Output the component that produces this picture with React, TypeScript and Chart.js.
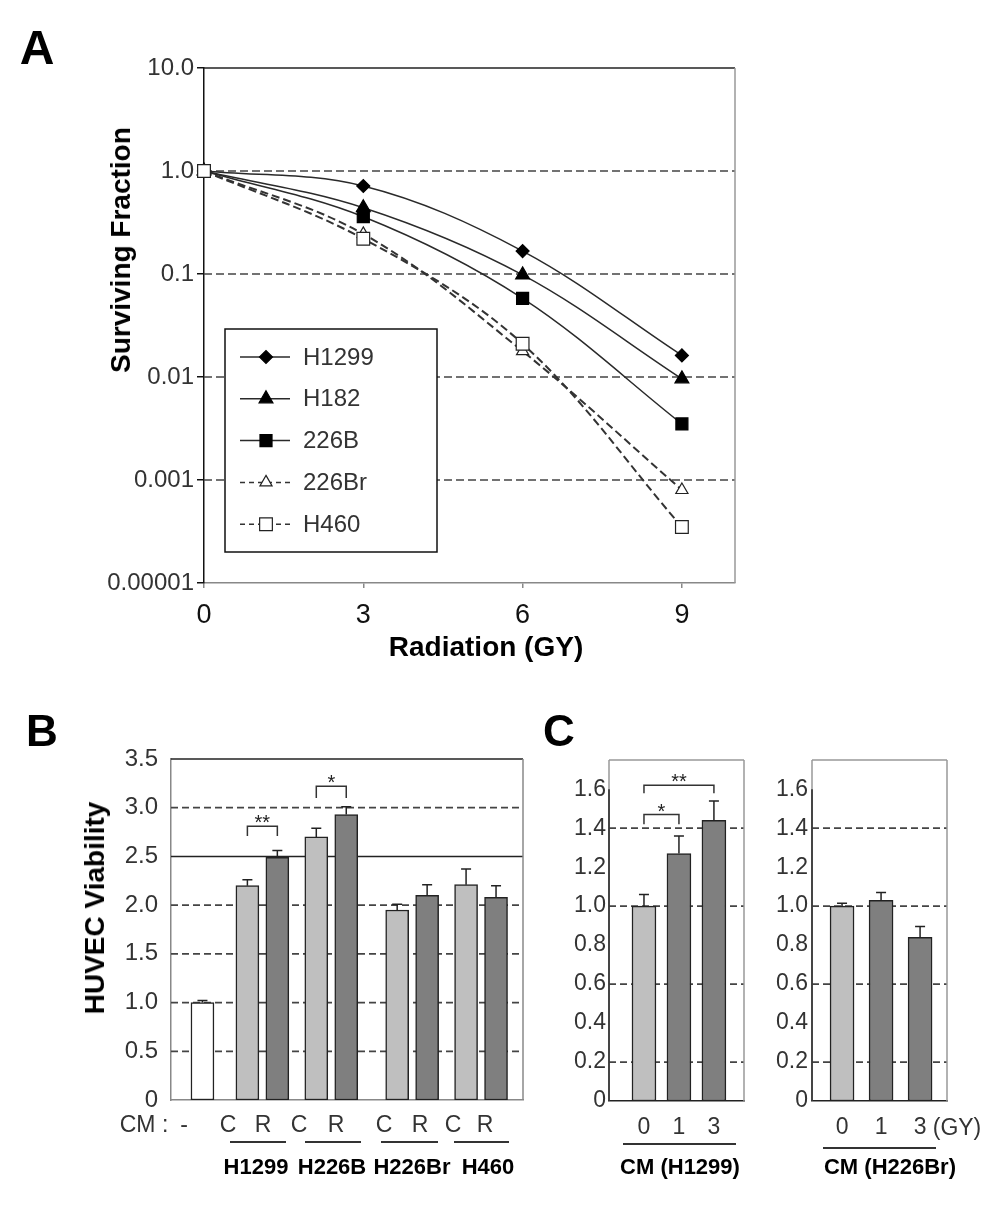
import React, { useEffect, useRef } from "react";
import { Chart, registerables } from "chart.js";

Chart.register(...registerables);

const FONT = "'Liberation Sans', Arial, Helvetica, sans-serif";
Chart.defaults.font.family = FONT;
Chart.defaults.color = "#333";

// ---------------- Panel A: surviving fraction ----------------
const aDoses = [0, 3, 6, 9];
const aSeriesLabels = ["H1299", "H182", "226B", "226Br", "H460"];
const aH1299 = [1.0, 0.715, 0.167, 0.0162];
const aH182 = [1.0, 0.44, 0.098, 0.0096];
const a226B = [1.0, 0.36, 0.058, 0.0035];
const a226Br = [1.0, 0.245, 0.0178, 0.0008];
const aH460 = [1.0, 0.22, 0.021, 0.00035];
const aYTickValues = [0.0001, 0.001, 0.01, 0.1, 1, 10];
const aYTickLabels = ["0.00001", "0.001", "0.01", "0.1", "1.0", "10.0"];
const aXTickValues = [0, 3, 6, 9];
const aXTickLabels = ["0", "3", "6", "9"];
const aGridValues = [0.001, 0.01, 0.1, 1];

// ---------------- Panel B: HUVEC viability ----------------
const bCM = ["-", "C", "R", "C", "R", "C", "R", "C", "R"];
const bGroups = ["H1299", "H226B", "H226Br", "H460"];
const bValues = [1.0, 2.2, 2.49, 2.7, 2.93, 1.95, 2.1, 2.21, 2.08];
const bErrors = [0.02, 0.06, 0.07, 0.09, 0.08, 0.06, 0.11, 0.16, 0.12];
const bSlots = [1.05, 2.55, 3.55, 4.85, 5.85, 7.55, 8.55, 9.85, 10.85];
const bYTickValues = [0, 0.5, 1, 1.5, 2, 2.5, 3, 3.5];
const bYTickLabels = ["0", "0.5", "1.0", "1.5", "2.0", "2.5", "3.0", "3.5"];
const bDashedGrid = [0.5, 1, 1.5, 2, 3];
const bSolidGrid = [2.5];
const bBrackets = [
  { from: 1, to: 2, top: 2.81, leg: 2.71, label: "**" },
  { from: 3, to: 4, top: 3.22, leg: 3.1, label: "*" },
];

// ---------------- Panel C ----------------
const cDoses = ["0", "1", "3"];
const cH1299Values = [1.0, 1.27, 1.44];
const cH1299Errors = [0.06, 0.09, 0.1];
const cH226BrValues = [1.0, 1.03, 0.84];
const cH226BrErrors = [0.015, 0.04, 0.055];
const cYTickValues = [0, 0.2, 0.4, 0.6, 0.8, 1.0, 1.2, 1.4, 1.6];
const cYTickLabels = ["0", "0.2", "0.4", "0.6", "0.8", "1.0", "1.2", "1.4", "1.6"];
const cDashedGrid = [0.2, 0.6, 1.0, 1.4];
const cH1299Brackets = [
  { from: 0, to: 1, top: 1.47, leg: 1.42, label: "*" },
  { from: 0, to: 2, top: 1.62, leg: 1.58, label: "**" },
];

// ---------------- layout & styles ----------------
const LIGHT = "#bfbfbf";
const DARK = "#7f7f7f";
const B_COLORS = ["#ffffff", LIGHT, DARK, LIGHT, DARK, LIGHT, DARK, LIGHT, DARK];
const C_COLORS = [LIGHT, DARK, DARK];

const BOX = {
  a: { left: 0, top: 0, w: 760, h: 690, l: 204, t: 68, r: 735, b: 583 },
  b: { left: 0, top: 690, w: 540, h: 522, l: 171, t: 759, r: 523, b: 1100 },
  c1: { left: 540, top: 690, w: 232, h: 522, l: 609, t: 760, r: 744, b: 1101 },
  c2: { left: 772, top: 690, w: 230, h: 522, l: 812, t: 760, r: 947, b: 1101 },
};

function pin(bx: any) {
  return {
    padding: { left: 0, top: bx.t - bx.top, right: bx.left + bx.w - bx.r, bottom: 0 },
    yw: bx.l - bx.left,
    xh: bx.top + bx.h - bx.b,
  };
}

// ---------------- plugins ----------------
const framePlugin = {
  id: "frame",
  beforeDatasetsDraw(chart: any, _a: any, o: any) {
    const { ctx, chartArea: a } = chart;
    const y = chart.scales.y;
    ctx.save();
    const seg = (x1: number, y1: number, x2: number, y2: number, color: string, w: number, dash: number[]) => {
      ctx.beginPath();
      ctx.setLineDash(dash);
      ctx.strokeStyle = color;
      ctx.lineWidth = w;
      ctx.moveTo(x1, y1);
      ctx.lineTo(x2, y2);
      ctx.stroke();
    };
    (o.dashed || []).forEach((v: number) => {
      const py = y.getPixelForValue(v);
      seg(a.left, py, a.right, py, o.dashColor || "#444", 1.7, o.dash || [7, 4]);
    });
    (o.solid || []).forEach((v: number) => {
      const py = y.getPixelForValue(v);
      seg(a.left, py, a.right, py, o.solidColor || "#222", 1.5, []);
    });
    if (o.top) seg(a.left, a.top, a.right, a.top, o.top, 1.5, []);
    if (o.right) seg(a.right, a.top, a.right, a.bottom, o.right, 1.5, []);
    if (o.left) seg(a.left, a.top, a.left, a.bottom, o.left, 1.5, []);
    if (o.leftDark) seg(a.left, y.getPixelForValue(o.leftDark.to), a.left, a.bottom, o.leftDark.color, 1.5, []);
    ctx.restore();
  },
};

const errorBarPlugin = {
  id: "errorBars",
  afterDatasetsDraw(chart: any, _a: any, o: any) {
    const errs = o.errors;
    if (!errs) return;
    const { ctx } = chart;
    const y = chart.scales.y;
    const meta = chart.getDatasetMeta(0);
    const data = chart.data.datasets[0].data;
    ctx.save();
    ctx.strokeStyle = "#222";
    ctx.lineWidth = 1.5;
    meta.data.forEach((el: any, i: number) => {
      const e = errs[i];
      if (!e) return;
      const top = y.getPixelForValue(data[i].y + e);
      ctx.beginPath();
      ctx.moveTo(el.x, el.y);
      ctx.lineTo(el.x, top);
      ctx.moveTo(el.x - 5, top);
      ctx.lineTo(el.x + 5, top);
      ctx.stroke();
    });
    ctx.restore();
  },
};

const bracketPlugin = {
  id: "brackets",
  afterDatasetsDraw(chart: any, _a: any, o: any) {
    const items = o.items || [];
    const { ctx } = chart;
    const y = chart.scales.y;
    const meta = chart.getDatasetMeta(0);
    ctx.save();
    ctx.strokeStyle = "#333";
    ctx.fillStyle = "#222";
    ctx.lineWidth = 1.5;
    ctx.font = `20px ${FONT}`;
    ctx.textAlign = "center";
    ctx.textBaseline = "alphabetic";
    items.forEach((b: any) => {
      const x1 = meta.data[b.from].x;
      const x2 = meta.data[b.to].x;
      const yt = y.getPixelForValue(b.top);
      const yl = y.getPixelForValue(b.leg);
      ctx.beginPath();
      ctx.moveTo(x1, yl);
      ctx.lineTo(x1, yt);
      ctx.lineTo(x2, yt);
      ctx.lineTo(x2, yl);
      ctx.stroke();
      ctx.fillText(b.label, (x1 + x2) / 2, yt + 3);
    });
    ctx.restore();
  },
};

function drawMarker(ctx: any, style: string, x: number, y: number, r: number, fill: string, stroke: string) {
  ctx.beginPath();
  if (style === "rectRot") {
    ctx.moveTo(x - r, y);
    ctx.lineTo(x, y - r);
    ctx.lineTo(x + r, y);
    ctx.lineTo(x, y + r);
    ctx.closePath();
  } else if (style === "triangle") {
    const w = r * Math.sin((2 * Math.PI) / 3);
    ctx.moveTo(x, y - r);
    ctx.lineTo(x + w, y + r / 2);
    ctx.lineTo(x - w, y + r / 2);
    ctx.closePath();
  } else {
    const s = r * Math.SQRT1_2;
    ctx.rect(x - s, y - s, 2 * s, 2 * s);
  }
  ctx.fillStyle = fill;
  ctx.fill();
  ctx.strokeStyle = stroke;
  ctx.lineWidth = 1.2;
  ctx.stroke();
}

const innerLegendPlugin = {
  id: "innerLegend",
  afterDatasetsDraw(chart: any, _a: any, o: any) {
    const { ctx, chartArea: a } = chart;
    const bx = a.left + o.dx;
    const by = a.top + o.dy;
    ctx.save();
    ctx.fillStyle = "#fff";
    ctx.fillRect(bx, by, o.w, o.h);
    ctx.strokeStyle = "#111";
    ctx.lineWidth = 1.5;
    ctx.strokeRect(bx, by, o.w, o.h);
    chart.data.datasets.forEach((ds: any, i: number) => {
      const ly = by + o.first + i * o.step;
      ctx.beginPath();
      ctx.setLineDash(ds.borderDash && ds.borderDash.length ? [5, 4] : []);
      ctx.strokeStyle = ds.borderColor;
      ctx.lineWidth = 1.5;
      ctx.moveTo(bx + 15, ly);
      ctx.lineTo(bx + 65, ly);
      ctx.stroke();
      ctx.setLineDash([]);
      drawMarker(ctx, ds.pointStyle, bx + 41, ly, ds.pointRadius, ds.pointBackgroundColor, ds.pointBorderColor);
      ctx.fillStyle = "#333";
      ctx.font = `24px ${FONT}`;
      ctx.textAlign = "left";
      ctx.textBaseline = "middle";
      ctx.fillText(ds.label, bx + 78, ly + 1);
    });
    ctx.restore();
  },
};

// ---------------- chart configs ----------------
const SOLID = { borderColor: "#2a2a2a", borderWidth: 1.5, borderDash: [] as number[] };
const DASHED = { borderColor: "#333", borderWidth: 2, borderDash: [8, 4] };
const A_STYLES = [
  { ...SOLID, pointStyle: "rectRot", pointRadius: 6.5, pointBackgroundColor: "#000", pointBorderColor: "#000", order: 5 },
  { ...SOLID, pointStyle: "triangle", pointRadius: 8, pointBackgroundColor: "#000", pointBorderColor: "#000", order: 4 },
  { ...SOLID, pointStyle: "rect", pointRadius: 8.5, pointBackgroundColor: "#000", pointBorderColor: "#000", order: 3 },
  { ...DASHED, pointStyle: "triangle", pointRadius: 7, pointBackgroundColor: "#fff", pointBorderColor: "#222", order: 2 },
  { ...DASHED, pointStyle: "rect", pointRadius: 9, pointBackgroundColor: "#fff", pointBorderColor: "#222", order: 1 },
];

function makeA() {
  const p = pin(BOX.a);
  const series = [aH1299, aH182, a226B, a226Br, aH460];
  return {
    type: "line",
    data: {
      datasets: series.map((vals, i) => ({
        label: aSeriesLabels[i],
        data: aDoses.map((x, j) => ({ x, y: vals[j] })),
        ...A_STYLES[i],
        pointBorderWidth: 1.2,
        tension: 0.35,
        clip: false,
      })),
    },
    options: {
      animation: false,
      responsive: false,
      events: [],
      layout: { padding: p.padding },
      plugins: {
        legend: { display: false },
        tooltip: { enabled: false },
        frame: { dashed: aGridValues, dashColor: "#444", dash: [8, 4], top: "#222", right: "#999" },
        innerLegend: { dx: 21, dy: 261, w: 212, h: 223, first: 28, step: 41.8 },
      },
      scales: {
        x: {
          type: "linear",
          min: 0,
          max: 10,
          offset: false,
          afterFit: (s: any) => { s.height = p.xh; },
          afterBuildTicks: (s: any) => { s.ticks = aXTickValues.map((v) => ({ value: v })); },
          ticks: { callback: (_v: any, i: number) => aXTickLabels[i], font: { size: 27 }, color: "#111", padding: 11, maxRotation: 0, autoSkip: false },
          grid: { display: true, drawOnChartArea: false, drawTicks: true, tickLength: 5, color: "#888", lineWidth: 1.5 },
          border: { display: true, color: "#888", width: 1.5 },
        },
        y: {
          type: "logarithmic",
          min: 0.0001,
          max: 10,
          afterFit: (s: any) => { s.width = p.yw; },
          afterBuildTicks: (s: any) => { s.ticks = aYTickValues.map((v) => ({ value: v })); },
          ticks: { callback: (_v: any, i: number) => aYTickLabels[i], font: { size: 24 }, color: "#333", padding: 3, autoSkip: false },
          grid: { display: true, drawOnChartArea: false, drawTicks: true, tickLength: 7, color: "#111", lineWidth: 1.5 },
          border: { display: true, color: "#111", width: 1.5 },
        },
      },
    },
    plugins: [framePlugin, innerLegendPlugin],
  };
}

function barConfig(opts: any) {
  const p = pin(opts.box);
  return {
    type: "bar",
    data: {
      datasets: [
        {
          data: opts.values.map((v: number, i: number) => ({ x: opts.slots[i], y: v })),
          backgroundColor: opts.colors,
          borderColor: "#222",
          borderWidth: 1.5,
          borderSkipped: false,
          barThickness: opts.barWidth,
        },
      ],
    },
    options: {
      animation: false,
      responsive: false,
      events: [],
      layout: { padding: p.padding },
      plugins: {
        legend: { display: false },
        tooltip: { enabled: false },
        frame: opts.frame,
        errorBars: { errors: opts.errors },
        brackets: { items: opts.brackets || [] },
      },
      scales: {
        x: {
          type: "linear",
          min: opts.xMin,
          max: opts.xMax,
          offset: false,
          afterFit: (s: any) => { s.height = p.xh; },
          afterBuildTicks: (s: any) => { s.ticks = opts.slots.map((v: number) => ({ value: v })); },
          ticks: {
            display: !!opts.xLabels,
            callback: (_v: any, i: number) => (opts.xLabels ? opts.xLabels[i] : ""),
            font: { size: 23 },
            color: "#333",
            padding: 13,
            maxRotation: 0,
            autoSkip: false,
          },
          grid: { display: false, drawTicks: false },
          border: { display: true, color: opts.bottomColor, width: 1.5 },
        },
        y: {
          type: "linear",
          min: 0,
          max: opts.yMax,
          afterFit: (s: any) => { s.width = p.yw; },
          afterBuildTicks: (s: any) => { s.ticks = opts.yTicks.map((v: number) => ({ value: v })); },
          ticks: { callback: (_v: any, i: number) => opts.yLabels[i], font: { size: opts.yFont }, color: "#333", padding: opts.yPad, autoSkip: false },
          grid: { display: false, drawTicks: false },
          border: { display: !!opts.leftColor, color: opts.leftColor || "#888", width: 1.5 },
        },
      },
    },
    plugins: [framePlugin, errorBarPlugin, bracketPlugin],
  };
}

const makeB = () =>
  barConfig({
    box: BOX.b,
    values: bValues,
    errors: bErrors,
    slots: bSlots,
    colors: B_COLORS,
    barWidth: 23,
    xMin: 0,
    xMax: 11.75,
    yMax: 3.5,
    yTicks: bYTickValues,
    yLabels: bYTickLabels,
    yFont: 24,
    yPad: 13,
    leftColor: "#888",
    bottomColor: "#888",
    brackets: bBrackets,
    frame: { dashed: bDashedGrid, solid: bSolidGrid, dashColor: "#444", solidColor: "#222", dash: [7, 4], top: "#222", right: "#888" },
  });

const cSlots = cDoses.map((_, i) => i);

const makeC1 = () =>
  barConfig({
    box: BOX.c1,
    values: cH1299Values,
    errors: cH1299Errors,
    slots: cSlots,
    xLabels: cDoses,
    colors: C_COLORS,
    barWidth: 24,
    xMin: -1,
    xMax: 2.86,
    yMax: 1.75,
    yTicks: cYTickValues,
    yLabels: cYTickLabels,
    yFont: 23,
    yPad: 3,
    leftColor: null,
    bottomColor: "#222",
    brackets: cH1299Brackets,
    frame: { dashed: cDashedGrid, dashColor: "#444", dash: [7, 4], top: "#999", right: "#999", left: "#999", leftDark: { to: 1.6, color: "#222" } },
  });

const makeC2 = () =>
  barConfig({
    box: BOX.c2,
    values: cH226BrValues,
    errors: cH226BrErrors,
    slots: cSlots,
    xLabels: cDoses,
    colors: C_COLORS,
    barWidth: 24,
    xMin: -0.77,
    xMax: 2.69,
    yMax: 1.75,
    yTicks: cYTickValues,
    yLabels: cYTickLabels,
    yFont: 23,
    yPad: 4,
    leftColor: null,
    bottomColor: "#222",
    brackets: [],
    frame: { dashed: cDashedGrid, dashColor: "#444", dash: [7, 4], top: "#999", right: "#999", left: "#999", leftDark: { to: 1.6, color: "#222" } },
  });

// ---------------- components ----------------
function ChartCanvas({ bx, make }: any) {
  const ref = useRef<HTMLCanvasElement>(null);
  useEffect(() => {
    const chart = new Chart(ref.current as any, make() as any);
    return () => chart.destroy();
  }, []);
  return (
    <canvas
      ref={ref}
      width={bx.w}
      height={bx.h}
      style={{ position: "absolute", left: bx.left, top: bx.top, width: bx.w, height: bx.h }}
    />
  );
}

function T({ x, y, size, bold, rotate, color, children }: any) {
  return (
    <div
      style={{
        position: "absolute",
        left: x,
        top: y,
        transform: `translate(-50%, -50%)${rotate ? ` rotate(${rotate}deg)` : ""}`,
        fontSize: size,
        fontWeight: bold ? 700 : 400,
        fontFamily: FONT,
        lineHeight: 1,
        whiteSpace: "nowrap",
        color: color || "#000",
      }}
    >
      {children}
    </div>
  );
}

function HLine({ x1, x2, y }: any) {
  return <div style={{ position: "absolute", left: x1, top: y - 0.75, width: x2 - x1, height: 1.5, background: "#333" }} />;
}

const TEXT = {
  bCmPrefixX: 144,
  bCmX: [184, 228, 263, 299, 336, 384, 420, 453, 485],
  bCmY: 1124,
  bUnder: [[230, 286], [305, 361], [381, 438], [454, 509]],
  bUnderY: 1142,
  bGroupX: [256, 332, 412, 488],
  bGroupY: 1167,
};

export default function App() {
  return (
    <div style={{ position: "absolute", left: 0, top: 0, width: 1002, height: 1212, background: "#fff", overflow: "hidden" }}>
      <ChartCanvas bx={BOX.a} make={makeA} />
      <ChartCanvas bx={BOX.b} make={makeB} />
      <ChartCanvas bx={BOX.c1} make={makeC1} />
      <ChartCanvas bx={BOX.c2} make={makeC2} />

      {/* Panel A text */}
      <T x={37} y={48} size={48} bold>A</T>
      <T x={121} y={250} size={28} bold rotate={-90}>Surviving Fraction</T>
      <T x={486} y={647} size={28} bold>Radiation (GY)</T>

      {/* Panel B text */}
      <T x={42} y={731} size={44} bold>B</T>
      <T x={95} y={908} size={28} bold rotate={-90}>HUVEC Viability</T>
      <T x={TEXT.bCmPrefixX} y={TEXT.bCmY} size={23} color="#333">CM :</T>
      {bCM.map((c, i) => (
        <T key={"cm" + i} x={TEXT.bCmX[i]} y={TEXT.bCmY} size={23} color="#333">{c}</T>
      ))}
      {TEXT.bUnder.map((s, i) => (
        <HLine key={"u" + i} x1={s[0]} x2={s[1]} y={TEXT.bUnderY} />
      ))}
      {bGroups.map((g, i) => (
        <T key={"g" + i} x={TEXT.bGroupX[i]} y={TEXT.bGroupY} size={22} bold>{g}</T>
      ))}

      {/* Panel C text */}
      <T x={559} y={731} size={44} bold>C</T>
      <HLine x1={623} x2={736} y={1144} />
      <T x={680} y={1167} size={22} bold>CM (H1299)</T>
      <T x={957} y={1127} size={23} color="#333">(GY)</T>
      <HLine x1={823} x2={936} y={1148} />
      <T x={890} y={1167} size={22} bold>CM (H226Br)</T>
    </div>
  );
}
